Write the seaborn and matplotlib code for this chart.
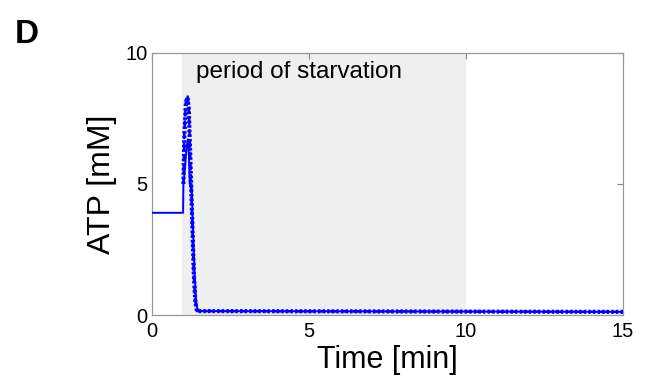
import matplotlib
matplotlib.use("Agg")
import matplotlib.pyplot as plt
import seaborn as sns

sns.set_style("white")
plt.rcParams['font.family'] = ['Liberation Sans', 'DejaVu Sans']
plt.rcParams['text.color'] = 'black'
plt.rcParams['axes.labelcolor'] = 'black'
plt.rcParams['xtick.color'] = 'black'
plt.rcParams['ytick.color'] = 'black'

# Data
t_solid = [0, 0.99, 1.0, 1.05, 1.1, 1.14, 1.18, 1.2, 1.26, 1.3, 1.35, 1.4, 1.45, 15]
atp_solid = [3.9, 3.9, 5.0, 5.6, 6.4, 6.7, 6.0, 5.0, 5.0, 3.5, 1.8, 0.6, 0.15, 0.12]
t_dashed = [1.0, 1.03, 1.08, 1.13, 1.17, 1.22, 1.28, 1.33, 1.38, 1.43, 15]
atp_dashed = [5.0, 7.0, 8.2, 8.4, 8.0, 6.0, 3.5, 1.5, 0.5, 0.15, 0.12]
t_dotted = [1.0, 1.03, 1.08, 1.13, 1.17, 1.22, 1.28, 1.33, 1.38, 1.43, 15]
atp_dotted = [5.0, 6.9, 8.1, 8.3, 7.9, 6.0, 3.6, 1.6, 0.5, 0.15, 0.12]
starve_start, starve_end = 0.95, 10
x_ticks = [0, 5, 10, 15]
y_ticks = [0, 5, 10]

fig = plt.figure(figsize=(6.46, 3.81), dpi=100)
ax = fig.add_axes([0.2353, 0.1732, 0.7291, 0.6878])

ax.axvspan(starve_start, starve_end, color='#efefef', zorder=0, lw=0)
blue = '#0000ff'
sns.lineplot(x=t_solid, y=atp_solid, ax=ax, color=blue, lw=1.4, linestyle='-', zorder=4)
sns.lineplot(x=t_dashed, y=atp_dashed, ax=ax, color=blue, lw=1.8, linestyle=(0, (3, 1.5)), zorder=3)
sns.lineplot(x=t_dotted, y=atp_dotted, ax=ax, color=blue, lw=3.0, linestyle=(0, (0.6, 0.5)), zorder=3)

ax.set_xlim(0, 15)
ax.set_ylim(0, 10)
ax.set_xticks(x_ticks)
ax.set_yticks(y_ticks)
ax.tick_params(direction='in', length=4, width=0.8, color='#888888', top=True, right=True,
               labelsize=14.5, labelcolor='black')
ax.tick_params(axis='x', pad=5)
ax.tick_params(axis='y', pad=3)
for s in ax.spines.values():
    s.set_color('#999999')
    s.set_linewidth(0.9)
ax.set_xlabel('Time [min]', fontsize=22, labelpad=3)
ax.set_ylabel('ATP [mM]', fontsize=23, labelpad=6)
ax.text(1.4, 9.27, 'period of starvation', fontsize=17.5, va='center', ha='left')
fig.text(0.023, 0.91, 'D', fontsize=24, fontweight='bold', va='center', ha='left')

fig.savefig('out.png', dpi=100)
